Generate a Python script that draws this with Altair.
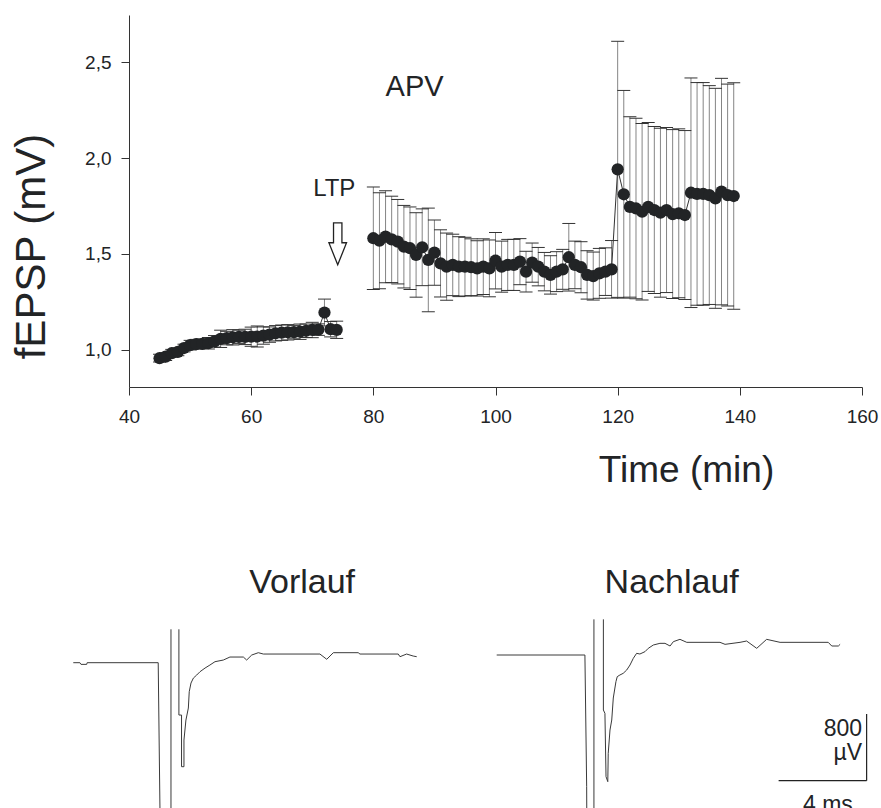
import altair as alt
import pandas as pd

F = "Liberation Sans"
INK = "#222426"

# ---------------- top panel: fEPSP time course ----------------
pre_t = [45, 46, 47, 48, 49, 50, 51, 52, 53, 54, 55, 56, 57, 58, 59,
         60, 61, 62, 63, 64, 65, 66, 67, 68, 69, 70, 71, 72, 73, 74]
pre_v = [0.957, 0.965, 0.983, 0.99, 1.01, 1.025, 1.03, 1.032, 1.035, 1.045,
         1.058, 1.062, 1.066, 1.068, 1.068, 1.069, 1.07, 1.075, 1.08, 1.087,
         1.09, 1.092, 1.093, 1.095, 1.1, 1.104, 1.106, 1.195, 1.108, 1.105]
pre_e = [0.02, 0.02, 0.02, 0.02, 0.02, 0.025, 0.025, 0.025, 0.03, 0.03,
         0.045, 0.035, 0.04, 0.035, 0.04, 0.05, 0.055, 0.045, 0.04, 0.04,
         0.04, 0.04, 0.035, 0.04, 0.035, 0.04, 0.03, 0.07, 0.04, 0.045]

post_t = [80, 81, 82, 83, 84, 85, 86, 87, 88, 89, 90, 91, 92, 93, 94, 95, 96, 97,
          98, 99, 100, 101, 102, 103, 104, 105, 106, 107, 108, 109, 110, 111, 112,
          113, 114, 115, 116, 117, 118, 119,
          120, 121, 122, 123, 124, 125, 126, 127, 128, 129, 130, 131,
          132, 133, 134, 135, 136, 137, 138, 139]
post_v = [1.582, 1.569, 1.59, 1.576, 1.564, 1.538, 1.53, 1.495, 1.535, 1.469,
          1.507, 1.451, 1.434, 1.443, 1.434, 1.434, 1.431, 1.425,
          1.434, 1.425, 1.465, 1.434, 1.443, 1.443, 1.46, 1.408, 1.455, 1.434,
          1.408, 1.391, 1.408, 1.42, 1.483, 1.443, 1.431, 1.391, 1.385, 1.399,
          1.408, 1.42,
          1.941, 1.811, 1.745, 1.737, 1.72, 1.745, 1.729, 1.715, 1.729, 1.708,
          1.712, 1.703,
          1.819, 1.813, 1.813, 1.807, 1.79, 1.825, 1.807, 1.802]
post_e = [0.267, 0.25, 0.24, 0.225, 0.22, 0.215, 0.215, 0.22, 0.2, 0.27,
          0.17, 0.175, 0.175, 0.16, 0.156, 0.153, 0.148, 0.144,
          0.145, 0.148, 0.147, 0.133, 0.133, 0.133, 0.12, 0.106, 0.102, 0.1,
          0.1, 0.1, 0.104, 0.104, 0.176, 0.124, 0.133, 0.126, 0.125, 0.13,
          0.124, 0.15,
          0.667, 0.541, 0.47, 0.47, 0.46, 0.44, 0.435, 0.44, 0.43, 0.44,
          0.44, 0.44,
          0.598, 0.58, 0.58, 0.57, 0.573, 0.59, 0.578, 0.59]

x_ticks = [40, 60, 80, 100, 120, 140, 160]
y_ticks = [1.0, 1.5, 2.0, 2.5]

rows = []
for t, v, e in zip(pre_t, pre_v, pre_e):
    rows.append({"t": t, "v": v, "lo": v - e, "hi": v + e, "g": "pre"})
for t, v, e in zip(post_t, post_v, post_e):
    rows.append({"t": t, "v": v, "lo": v - e, "hi": v + e, "g": "post"})
df = pd.DataFrame(rows)

xs = alt.Scale(domain=[40, 160], nice=False, zero=False)
ys = alt.Scale(domain=[0.807, 2.745], nice=False, zero=False)

xaxis = alt.Axis(values=x_ticks, grid=False, tickSize=8, tickColor="#333",
                 domainColor="#333", labelFont=F, labelFontSize=19,
                 labelColor=INK, labelPadding=12, labelFlush=False,
                 labelOverlap=False, title="Time (min)", titleFont=F,
                 titleFontSize=37, titleFontWeight="normal", titleColor=INK,
                 titleX=557, titleY=83, titleBaseline="middle",
                 titleAlign="center")
yaxis = alt.Axis(values=y_ticks, grid=False, tickSize=8, tickColor="#333",
                 domainColor="#333", labelFont=F, labelFontSize=19,
                 labelColor=INK, labelPadding=10,
                 labelExpr="replace(format(datum.value, '.1f'), '.', ',')",
                 title="fEPSP (mV)", titleFont=F, titleFontSize=42,
                 titleFontWeight="normal", titleColor=INK, titleX=-98,
                 titleY=231, titleAngle=270, titleBaseline="middle",
                 titleAlign="center")

X = alt.X("t:Q", scale=xs, axis=xaxis)


def Y(field):
    return alt.Y(field, scale=ys, axis=yaxis)


base = alt.Chart(df)
bars = base.mark_rule(color="#858585", strokeWidth=1).encode(
    x=X, y=Y("lo:Q"), y2="hi:Q")
cap_hi = base.mark_tick(orient="horizontal", size=13, thickness=1,
                        color="#333", opacity=1).encode(x=X, y=Y("hi:Q"))
cap_lo = base.mark_tick(orient="horizontal", size=13, thickness=1,
                        color="#333", opacity=1).encode(x=X, y=Y("lo:Q"))
line = base.mark_line(color="#333", strokeWidth=1).encode(
    x=X, y=Y("v:Q"), detail="g:N")
pts = base.mark_point(filled=True, size=150, color=INK, opacity=1).encode(
    x=X, y=Y("v:Q"))

apv = alt.Chart(pd.DataFrame({"t": [86.75], "v": [2.37], "s": ["APV"]})).mark_text(
    font=F, fontSize=29, color=INK, align="center", baseline="middle").encode(
    x=X, y=Y("v:Q"), text="s:N")
ltp = alt.Chart(pd.DataFrame({"t": [73.6], "v": [1.84], "s": ["LTP"]})).mark_text(
    font=F, fontSize=24, color=INK, align="center", baseline="middle").encode(
    x=X, y=Y("v:Q"), text="s:N")

ARROW = "M-0.2,-1 L0.2,-1 L0.2,-0.05 L0.42,-0.05 L0,1 L-0.42,-0.05 L-0.2,-0.05 Z"
arrow = alt.Chart(pd.DataFrame({"t": [74.17], "v": [1.553]})).mark_point(
    shape=ARROW, size=1764, filled=True, fill="white", stroke="#222",
    strokeWidth=1.3, opacity=1).encode(x=X, y=Y("v:Q"))

top = alt.layer(bars, cap_hi, cap_lo, line, pts, apv, ltp, arrow)

# ---------------- bottom panel: sample traces (ms, µV) ----------------
# segments: 0 = baseline + artifact down, 1 = artifact up, 2 = response
vor_ms = [0, 0.30, 0.35, 0.61, 0.63, 3.86, 3.94, 3.94,
          4.44, 4.44,
          4.80, 4.80, 4.92, 4.92, 5.03, 5.03, 5.12, 5.23, 5.27, 5.35, 5.46,
          5.61, 5.76, 5.99, 6.21, 6.44, 6.82, 7.12, 7.73, 7.88, 8.11, 8.41,
          8.64, 11.21, 11.52, 11.82, 12.95, 13.03, 14.77, 14.85, 15.15, 15.45,
          15.61]
vor_uv = [0, 0, -20, -20, 0, 0, -1770, -2200,
          -2200, 401,
          401, -628, -628, -1248, -1248, -928, -688, -544, -348, -244, -184,
          -148, -108, -64, -28, 12, 32, 68, 68, 32, 92, 120,
          104, 104, 41, 120, 120, 104, 104, 72, 104, 80,
          72]
vor_seg = [0] * 8 + [1] * 2 + [2] * 33

nach_ms = [0, 4.01, 4.09, 4.10,
           4.42, 4.42,
           4.85, 4.85, 4.92, 4.97, 5.05, 5.07, 5.15, 5.23, 5.30, 5.42, 5.48,
           5.60, 5.75, 5.91, 6.06, 6.21, 6.36, 6.51, 6.74, 6.89, 7.12, 7.42,
           7.65, 7.88, 8.03, 8.33, 8.64, 10.15, 10.38, 11.06, 11.36, 11.82,
           12.27, 12.88, 15.07, 15.23, 15.53, 15.61]
nach_uv = [0, 0, -1580, -2200,
           -2200, 428,
           428, -660, -700, -1460, -1520, -1180, -900, -780, -516, -320, -260,
           -240, -220, -180, -120, -40, 20, 12, 40, 80, 120, 140,
           140, 108, 160, 188, 152, 152, 128, 152, 168, 80,
           188, 152, 152, 108, 108, 128]
nach_seg = [0] * 4 + [1] * 2 + [2] * 38

trace_start_ms = {"Vorlauf": 0.0, "Nachlauf": 19.245}
trace_base_uv = {"Vorlauf": 0.0, "Nachlauf": 92.4}

trows = []
for name, ms, uv, sg in [("Vorlauf", vor_ms, vor_uv, vor_seg),
                         ("Nachlauf", nach_ms, nach_uv, nach_seg)]:
    for i, (a, b, s) in enumerate(zip(ms, uv, sg)):
        trows.append({"ms": a + trace_start_ms[name],
                      "uv": b + trace_base_uv[name], "i": i,
                      "seg": f"{name}-{s}"})
tdf = pd.DataFrame(trows)

bx = alt.Scale(domain=[2.532, 35.85], nice=False, zero=False)
by = alt.Scale(domain=[3308.4, 7772.4], nice=False, zero=False)
BX = alt.X("ms:Q", scale=bx, axis=None)
BY = alt.Y("uv:Q", scale=by, axis=None)

traces = alt.Chart(tdf).mark_line(color="#3a3a3a", strokeWidth=1).encode(
    x=BX, y=BY, detail="seg:N", order="i:Q")

title_ms = [10.4, 27.2]
title_uv = [956, 956]
title_txt = ["Vorlauf", "Nachlauf"]
ttl = alt.Chart(pd.DataFrame({"ms": title_ms, "uv": title_uv, "s": title_txt})).mark_text(
    font=F, fontSize=34, color=INK, align="center", baseline="middle").encode(
    x=BX, y=BY, text="s:N")

# scale bar: 4 ms x 800 µV
bar_h = alt.Chart(pd.DataFrame({"ms": [32.06], "ms2": [36.06], "uv": [-1416]})).mark_rule(
    color="#222", strokeWidth=1.2).encode(x=BX, x2="ms2:Q", y=BY)
bar_v = alt.Chart(pd.DataFrame({"ms": [36.06], "uv": [-1416], "uv2": [-616]})).mark_rule(
    color="#222", strokeWidth=1.2).encode(x=BX, y=BY, y2="uv2:Q")
sb_lab = alt.Chart(pd.DataFrame({"ms": [35.85, 35.85], "uv": [-790, -1080],
                                 "s": ["800", "µV"]})).mark_text(
    font=F, fontSize=23, color=INK, align="right", baseline="middle").encode(
    x=BX, y=BY, text="s:N")
sb_ms = alt.Chart(pd.DataFrame({"ms": [34.3], "uv": [-1792], "s": ["4 ms"]})).mark_text(
    font=F, fontSize=23, color=INK, align="center", baseline="alphabetic").encode(
    x=BX, y=BY, text="s:N")

bottom = alt.layer(traces, ttl, bar_h, bar_v, sb_lab, sb_ms)

chart = alt.layer(top, bottom).resolve_scale(
    x="independent", y="independent").properties(
    width=733, height=372,
    padding={"left": 129, "top": 15, "right": 19, "bottom": 421},
    autosize=alt.AutoSizeParams(type="none"),
    background="white",
).configure_view(stroke=None)

chart.save("out.html", embed_options={"renderer": "svg", "actions": False})
